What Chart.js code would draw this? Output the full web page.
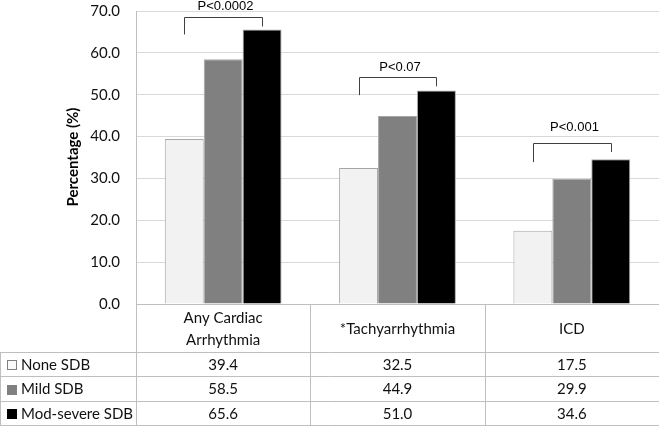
<!DOCTYPE html>
<html>
<head>
<meta charset="utf-8">
<script src="https://cdn.jsdelivr.net/npm/chart.js@4.4.0/dist/chart.umd.min.js"></script>
<style>
  html, body { margin: 0; padding: 0; background: #fff; }
  #wrap { width: 660px; height: 431px; position: relative; }
</style>
</head>
<body>
<div id="wrap"><canvas id="chart" width="660" height="431"></canvas></div>
<script>
(function () {
    'use strict';

    const categories = [['Any Cardiac', 'Arrhythmia'], '*Tachyarrhythmia', 'ICD'];
    const seriesNames = ['None SDB', 'Mild SDB', 'Mod-severe SDB'];
    const noneSdb   = [39.4, 32.5, 17.5];
    const mildSdb   = [58.5, 44.9, 29.9];
    const modSevere = [65.6, 51.0, 34.6];
    const yTicks    = [0, 10, 20, 30, 40, 50, 60, 70];

    // significance brackets (values in axis units)
    const pLabels     = ['P<0.0002', 'P<0.07', 'P<0.001'];
    const pLabelAt    = [70.2, 55.6, 41.3];
    const bracketTop  = [68.5, 54.2, 38.4];
    const bracketLeft = [64.4, 49.9, 33.9];
    const bracketRight = [66.3, 52.0, 36.3];

    const FILLS  = ['#f2f2f2', '#808080', '#000000'];
    const BORDER = '#bfbfbf';
    const FONT   = 'Lato, "Open Sans", sans-serif';
    const TEXT   = '#111';

    const px = v => Math.round(v) + 0.5;

    function line(ctx, x1, y1, x2, y2) {
        ctx.beginPath();
        ctx.moveTo(x1, y1);
        ctx.lineTo(x2, y2);
        ctx.stroke();
    }

    const extrasPlugin = {
        id: 'extras',
        afterDraw(chart) {
            const ctx = chart.ctx;
            const area = chart.chartArea;
            const xs = chart.scales.x;
            const ys = chart.scales.y;
            const colW = (area.right - area.left) / categories.length;
            const headerBottom = area.bottom + 48;
            const rowH = 24.4;
            const tableBottom = headerBottom + rowH * seriesNames.length;

            ctx.save();

            // axis title
            ctx.save();
            ctx.translate(73, 157);
            ctx.rotate(-Math.PI / 2);
            ctx.font = 'bold 15px ' + FONT;
            ctx.fillStyle = '#000';
            ctx.textAlign = 'center';
            ctx.textBaseline = 'middle';
            ctx.fillText('Percentage (%)', 0, 0);
            ctx.restore();

            // brackets
            const m0 = chart.getDatasetMeta(0);
            const m2 = chart.getDatasetMeta(2);
            ctx.strokeStyle = '#404040';
            ctx.lineWidth = 1;
            ctx.font = '13px "Liberation Sans", Arial, sans-serif';
            ctx.fillStyle = '#000';
            ctx.textAlign = 'center';
            ctx.textBaseline = 'alphabetic';
            categories.forEach((c, i) => {
                const xl = px(m0.data[i].x);
                const xr = px(m2.data[i].x);
                const yt = px(ys.getPixelForValue(bracketTop[i]));
                ctx.beginPath();
                ctx.moveTo(xl, ys.getPixelForValue(bracketLeft[i]));
                ctx.lineTo(xl, yt);
                ctx.lineTo(xr, yt);
                ctx.lineTo(xr, ys.getPixelForValue(bracketRight[i]));
                ctx.stroke();
                ctx.fillText(pLabels[i], (xl + xr) / 2 + 2, ys.getPixelForValue(pLabelAt[i]));
            });

            // data table grid
            ctx.strokeStyle = BORDER;
            line(ctx, area.left, px(area.bottom), area.right, px(area.bottom));
            line(ctx, 0, px(headerBottom), area.right, px(headerBottom));
            seriesNames.forEach((s, r) => {
                const y = px(headerBottom + rowH * (r + 1));
                line(ctx, 0, y, area.right, y);
            });
            line(ctx, 0.5, px(headerBottom), 0.5, px(tableBottom));
            for (let i = 0; i < categories.length; i++) {
                const x = px(area.left + colW * i);
                line(ctx, x, area.bottom, x, px(tableBottom));
            }

            // header labels
            ctx.font = '15px ' + FONT;
            ctx.fillStyle = TEXT;
            ctx.textBaseline = 'middle';
            ctx.textAlign = 'center';
            categories.forEach((c, i) => {
                const cx = xs.getPixelForValue(i);
                const lines = Array.isArray(c) ? c : [c];
                const mid = (area.bottom + headerBottom) / 2 + 1;
                lines.forEach((t, k) => {
                    ctx.fillText(t, cx, mid + (k - (lines.length - 1) / 2) * 22);
                });
            });

            // rows
            const rows = [noneSdb, mildSdb, modSevere];
            rows.forEach((vals, r) => {
                const cy = headerBottom + rowH * r + rowH / 2 + 1;
                // legend key
                const kx = 7, ks = 10;
                ctx.fillStyle = r === 0 ? '#fafafa' : FILLS[r];
                ctx.fillRect(kx, Math.round(cy - ks / 2), ks, ks);
                if (r === 0) {
                    ctx.strokeStyle = '#808080';
                    ctx.strokeRect(kx + 0.5, Math.round(cy - ks / 2) + 0.5, ks - 1, ks - 1);
                }
                ctx.fillStyle = TEXT;
                ctx.textAlign = 'left';
                ctx.fillText(seriesNames[r], 21, cy);
                ctx.textAlign = 'center';
                vals.forEach((v, i) => {
                    ctx.fillText(v.toFixed(1), xs.getPixelForValue(i), cy);
                });
            });

            ctx.restore();
        }
    };

    new Chart(document.getElementById('chart'), {
        type: 'bar',
        data: {
            labels: categories,
            datasets: [noneSdb, mildSdb, modSevere].map((d, i) => ({
                label: seriesNames[i],
                data: d,
                backgroundColor: FILLS[i],
                borderColor: '#a6a6a6',
                borderWidth: 1,
                categoryPercentage: 0.67,
                barPercentage: 1.0,
            })),
        },
        options: {
            responsive: false,
            animation: false,
            devicePixelRatio: 1,
            layout: { padding: { left: 0, top: 11, right: 1, bottom: 127 } },
            plugins: {
                legend: { display: false },
                tooltip: { enabled: false },
            },
            scales: {
                x: { display: false },
                y: {
                    min: 0,
                    max: 70,
                    afterBuildTicks: scale => { scale.ticks = yTicks.map(v => ({ value: v })); },
                    afterFit: scale => {
                        scale.width = 136;
                        scale.paddingTop = 0;
                        scale.paddingBottom = 0;
                    },
                    ticks: {
                        padding: 16,
                        color: TEXT,
                        font: { family: FONT, size: 15 },
                        callback: v => Number(v).toFixed(1),
                    },
                    grid: { color: '#d9d9d9', drawTicks: false },
                    border: { color: BORDER },
                },
            },
        },
        plugins: [extrasPlugin],
    });
})();
</script>
</body>
</html>
